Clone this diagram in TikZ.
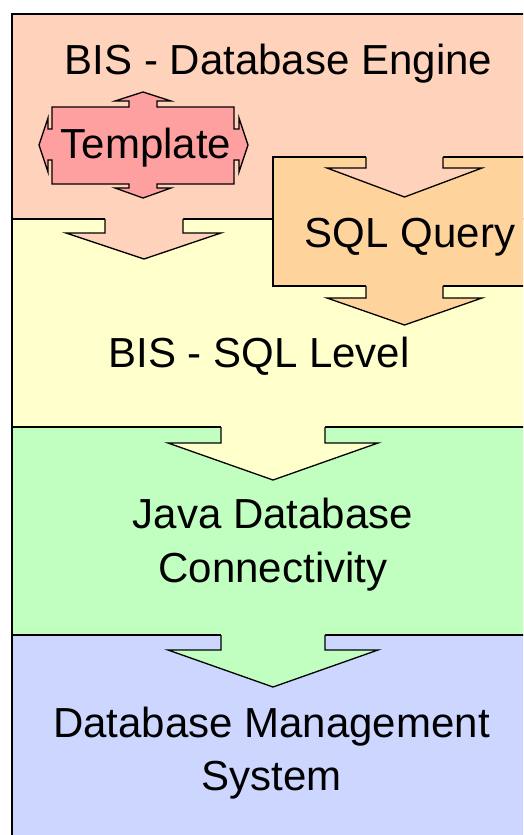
\documentclass[tikz,border=0pt]{standalone}
\usepackage{fontspec}
\setmainfont{Liberation Sans}
\definecolor{enginecol}{HTML}{FFD3BB}
\definecolor{sqllevelcol}{HTML}{FFFFCC}
\definecolor{jdbccol}{HTML}{C0FFC0}
\definecolor{dbmscol}{HTML}{CCD6FF}
\definecolor{querycol}{HTML}{FFD49C}
\definecolor{templatecol}{HTML}{FFA0A0}
\tikzset{
  edge/.style={draw=black, line width=1.3pt, line join=miter},
  label/.style={anchor=base, inner sep=0pt, font=\fontsize{42}{50}\selectfont},
}
% block arrow pointing down: shaft from xl to xr starting at y0, head row at y1,
% wings from wl to wr, tip at y2
\newcommand\downblock[8]{%
  \fill[#1] (#2,#4-1.5) -- (#2,#5) -- (#6,#5) -- ({(#2+#3)/2},#8) -- (#7,#5) -- (#3,#5) -- (#3,#4-1.5) -- cycle;
  \draw[edge] (#2,#4) -- (#2,#5) -- (#6,#5) -- ({(#2+#3)/2},#8) -- (#7,#5) -- (#3,#5) -- (#3,#4);
}
\begin{document}
\begin{tikzpicture}[x=1pt, y=-1pt]
\useasboundingbox (0,0) rectangle (523,835);
\clip (0,0) rectangle (523,835);
\fill[white] (0,0) rectangle (523,835);

% layer bands
\fill[enginecol]   (12,14)  rectangle (560,219);
\fill[sqllevelcol] (12,219) rectangle (560,427);
\fill[jdbccol]     (12,427) rectangle (560,635);
\fill[dbmscol]     (12,635) rectangle (560,880);
\draw[edge] (12,219) -- (560,219);
\draw[edge] (12,427) -- (560,427);
\draw[edge] (12,635) -- (560,635);
\draw[line width=2.2pt] (12,880) -- (12,14) -- (560,14);

% engine -> SQL level
\downblock{enginecol}{105}{183}{219}{233}{66}{221}{259}
% SQL level -> JDBC
\downblock{sqllevelcol}{221}{325}{427}{443}{168}{378}{480}
% JDBC -> DBMS
\downblock{jdbccol}{221}{325}{635}{650}{168}{378}{687}

% SQL query box
\draw[edge, fill=querycol] (273,157) rectangle (540,286);
\downblock{enginecol}{366}{443}{157}{168}{327}{482}{197}
\downblock{querycol}{366}{443}{286}{298}{327}{482}{325}

% template with arrows on all four sides
\draw[edge, fill=templatecol]
  (52,107) -- (129,107) -- (129,101) -- (115,101) -- (143,92) -- (171,101) -- (157,101) -- (157,107)
  -- (234,107) -- (234,129) -- (239,129) -- (239,118) -- (248,145) -- (239,172) -- (239,160) -- (234,160)
  -- (234,184) -- (157,184) -- (157,188) -- (171,188) -- (143,198) -- (115,188) -- (129,188) -- (129,184)
  -- (52,184) -- (52,160) -- (48,160) -- (48,172) -- (39,145) -- (48,118) -- (48,129) -- (52,129) -- cycle;

% labels
\node[label] (engine) at (278.5,74) {BIS - Database Engine};
\node[label] (template) at (146,158) {Template};
\node[label] (query) at (410,247) {SQL Query};
\node[label] (sqllevel) at (259,367) {BIS - SQL Level};
\node[label] (jdbcA) at (273,528) {Java Database};
\node[label] (jdbcB) at (273,582) {Connectivity};
\node[label] (dbmsA) at (271.5,737) {Database Management};
\node[label] (dbmsB) at (271.5,790) {System};
\end{tikzpicture}
\end{document}
